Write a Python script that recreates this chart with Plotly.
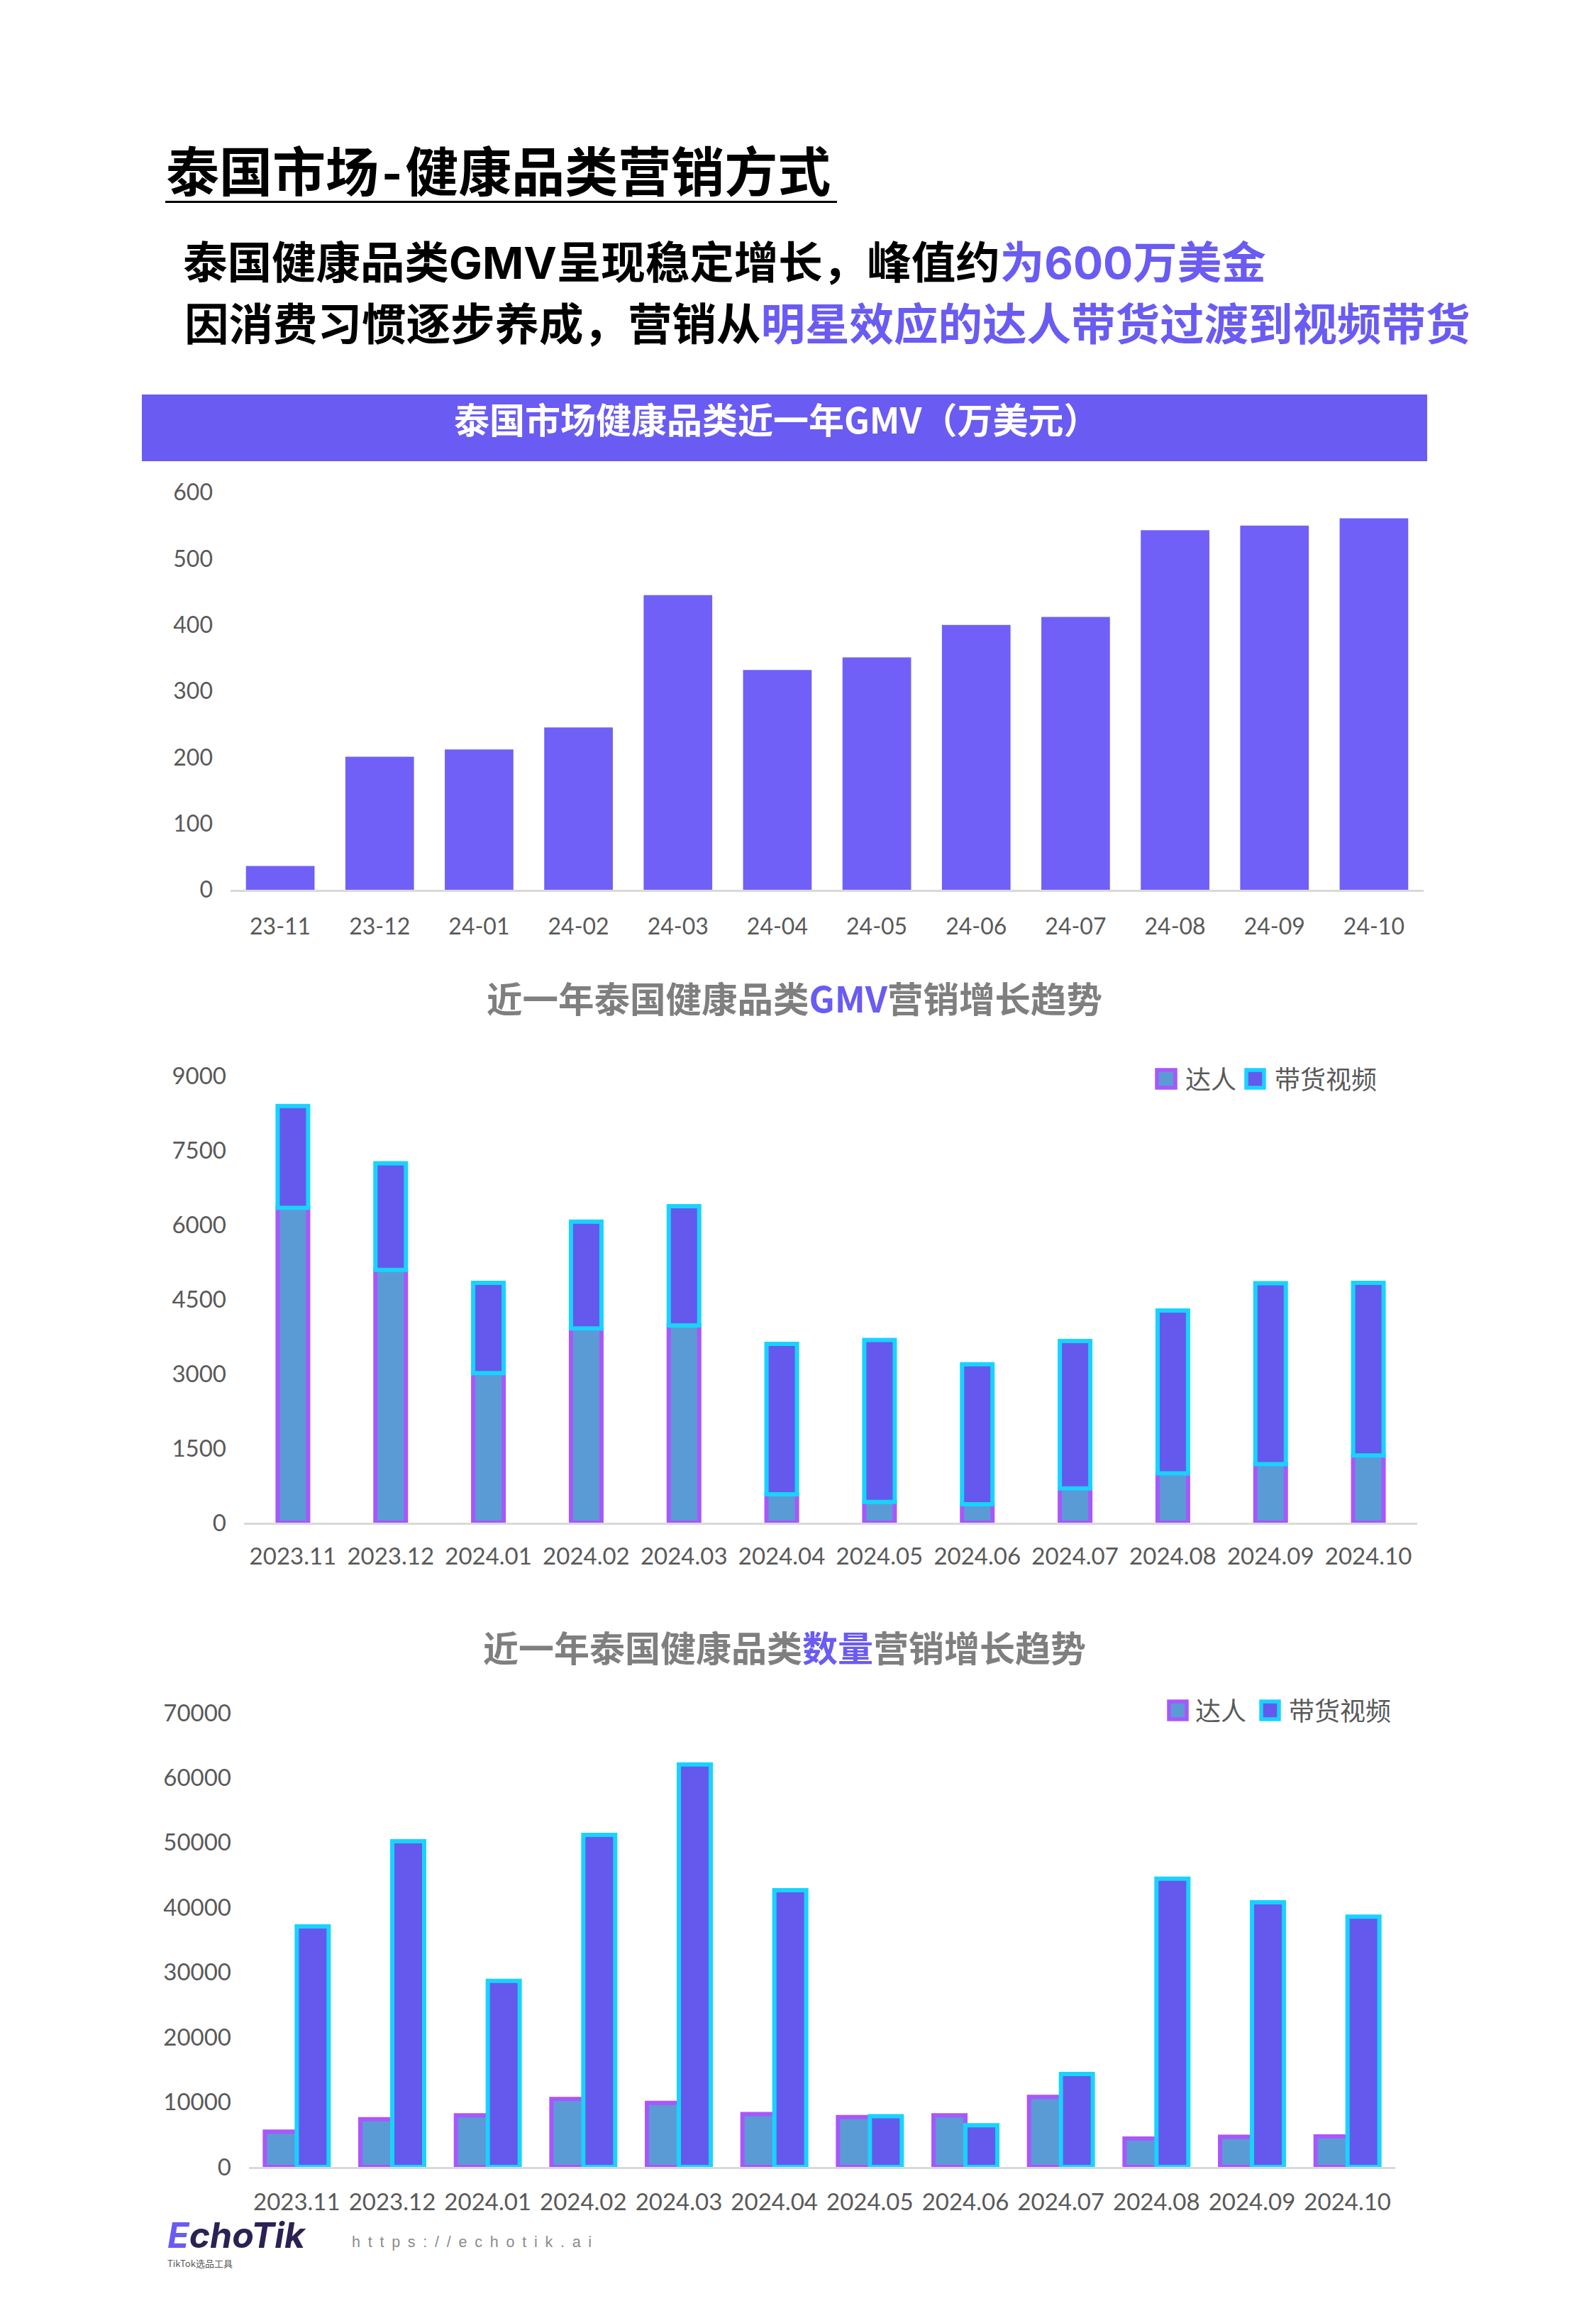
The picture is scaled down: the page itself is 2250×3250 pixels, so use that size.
import plotly.graph_objects as go

W = 2250
H = 3250

months_short = ['23-11', '23-12', '24-01', '24-02', '24-03', '24-04', '24-05', '24-06', '24-07', '24-08', '24-09', '24-10']
months_long = ['2023.11', '2023.12', '2024.01', '2024.02', '2024.03', '2024.04', '2024.05', '2024.06', '2024.07', '2024.08', '2024.09', '2024.10']

gmv_total = [36, 201, 212, 245, 445, 332, 351, 400, 412, 543, 550, 561]

gmv_creator = [6340, 5090, 3010, 3910, 3970, 573, 418, 370, 688, 993, 1180, 1354]
gmv_video = [2051, 2145, 1820, 2150, 2400, 3027, 3262, 2820, 2970, 3277, 3641, 3476]

count_creator = [5430, 7360, 7970, 10480, 9870, 8140, 7680, 7970, 10800, 4370, 4640, 4700]
count_video = [37090, 50200, 28680, 51200, 62050, 42650, 7820, 6430, 14320, 44440, 40800, 38580]

ticks_gmv = [0, 100, 200, 300, 400, 500, 600]
ticks_stack = [0, 1500, 3000, 4500, 6000, 7500, 9000]
ticks_count = [0, 10000, 20000, 30000, 40000, 50000, 60000, 70000]

PURPLE = '#6A5BF3'
BAR1 = '#7060F7'
CREATOR_FILL = '#5B9BD5'
CREATOR_LINE = '#A857FA'
VIDEO_FILL = '#6459EC'
VIDEO_LINE = '#19D3FF'
GREY = '#595959'
TITLE_GREY = '#7F7F7F'
CJK = 'Noto Sans CJK SC'
NUM = 'Lato'
COMMA = '\uff0c'


def px(x):
    return x / W


def py(y):
    return 1 - y / H


def text(s, x, y, size, color='black', anchor='left', family=CJK):
    return dict(text=s, x=px(x), y=py(y), xref='paper', yref='paper', showarrow=False, xanchor=anchor, yanchor='middle',
                font=dict(family=family, size=size, color=color))


def rect(x0, y0, x1, y1, fill, line=None, lw=0):
    return dict(type='rect', xref='paper', yref='paper', x0=px(x0), x1=px(x1), y0=py(y1), y1=py(y0),
                fillcolor=fill, line=dict(color=line or fill, width=lw))


def xaxis(left, right, labels, anchor, size, standoff):
    return dict(domain=[px(left), px(right)], anchor=anchor, type='category', categoryorder='array', categoryarray=labels,
                range=[-0.5, 11.5], showgrid=False, zeroline=False, showline=True, linecolor='#D9D9D9', linewidth=3,
                automargin=False, ticks='', ticklabelstandoff=standoff, tickfont=dict(family=NUM, size=size, color=GREY))


def yaxis(top, bottom, maxval, tickvals, anchor, size, standoff):
    return dict(domain=[py(bottom), py(top)], anchor=anchor, range=[0, maxval], tickvals=tickvals, tickformat='d', showgrid=False,
                zeroline=False, showline=False, automargin=False, ticks='', ticklabelstandoff=standoff,
                tickfont=dict(family=NUM, size=size, color=GREY))


fig = go.Figure()

fig.add_trace(go.Bar(x=months_short, y=gmv_total, width=0.69, marker=dict(color=BAR1, line=dict(width=0)), xaxis='x', yaxis='y', showlegend=False))

fig.add_trace(go.Bar(x=months_long, y=gmv_creator, name='达人', width=0.312,
                     marker=dict(color=CREATOR_FILL, line=dict(color=CREATOR_LINE, width=6)), xaxis='x2', yaxis='y2', showlegend=False))
fig.add_trace(go.Bar(x=months_long, y=gmv_video, base=gmv_creator, name='带货视频', width=0.312,
                     marker=dict(color=VIDEO_FILL, line=dict(color=VIDEO_LINE, width=6)), xaxis='x2', yaxis='y2', showlegend=False))

fig.add_trace(go.Bar(x=months_long, y=count_creator, name='达人', width=0.334, offset=-0.334,
                     marker=dict(color=CREATOR_FILL, line=dict(color=CREATOR_LINE, width=6)), xaxis='x3', yaxis='y3', showlegend=False))
fig.add_trace(go.Bar(x=months_long, y=count_video, name='带货视频', width=0.334, offset=0,
                     marker=dict(color=VIDEO_FILL, line=dict(color=VIDEO_LINE, width=6)), xaxis='x3', yaxis='y3', showlegend=False))

hl = f'<span style="color:{PURPLE}">%s</span>'
latin = '<span style="font-family:Inter">%s</span>'
annotations = [
    text('<b>泰国市场\u200a-\u200a健康品类营销方式</b>', 232, 238, 75),
    text('<b>泰国健康品类' + latin % 'GMV' + '呈现稳定增长' + COMMA + '峰值约</b>' + hl % ('<b>为' + latin % '600' + '万美金</b>'), 256, 365, 62.5),
    text('<b>因消费习惯逐步养成' + COMMA + '营销从</b>' + hl % '<b>明星效应的达人带货过渡到视频带货</b>', 258, 452, 62.5),
    text('<b>泰国市场健康品类近一年GMV\uff08万美元\uff09</b>', 1094, 589, 50, color='white', anchor='center'),
    text('<b>近一年泰国健康品类</b>' + hl % '<b>GMV</b>' + '<b>营销增长趋势</b>', 1120, 1405, 50.5, color=TITLE_GREY, anchor='center'),
    text('<b>近一年泰国健康品类</b>' + hl % '<b>数量</b>' + '<b>营销增长趋势</b>', 1106, 2320, 50, color=TITLE_GREY, anchor='center'),
    text('达人', 1669, 1519, 36, color=GREY),
    text('带货视频', 1795, 1519, 36, color=GREY),
    text('达人', 1683, 2409, 36, color=GREY),
    text('带货视频', 1815, 2409, 36, color=GREY),
    text(f'<b><i><span style="color:{PURPLE}">E</span>choTik</i></b>', 234, 3150, 50, color='#2B2154', family='Inter'),
    text('TikTok选品工具', 234, 3189, 13, color=GREY),
    text('\u2002'.join('https://echotik.ai'), 494, 3160, 21.5, color='#8C8C8C', family='Liberation Sans'),
]

shapes = [
    rect(233, 283, 1180, 286, 'black'),
    rect(200, 556, 2012, 650, PURPLE),
    rect(1631, 1508, 1657, 1533, CREATOR_FILL, CREATOR_LINE, 5.5),
    rect(1757, 1508, 1782, 1533, VIDEO_FILL, VIDEO_LINE, 5.5),
    rect(1648, 2398, 1673, 2423, CREATOR_FILL, CREATOR_LINE, 5.5),
    rect(1778, 2398, 1803, 2423, VIDEO_FILL, VIDEO_LINE, 5.5),
]

fig.update_layout(
    width=W,
    height=H,
    margin=dict(l=0, r=0, t=0, b=0),
    paper_bgcolor='white',
    plot_bgcolor='white',
    barmode='overlay',
    showlegend=False,
    xaxis=xaxis(325, 2007, months_short, 'y', 32, 22),
    yaxis=yaxis(694, 1254, 600, ticks_gmv, 'x', 32, 24),
    xaxis2=xaxis(344, 1998, months_long, 'y2', 33, 16),
    yaxis2=yaxis(1516, 2146, 9000, ticks_stack, 'x2', 33, 24),
    xaxis3=xaxis(351, 1967, months_long, 'y3', 33, 18),
    yaxis3=yaxis(2414, 3054, 70000, ticks_count, 'x3', 33, 24),
    annotations=annotations,
    shapes=shapes,
)

fig.write_html("out.html", config=dict(displayModeBar=False), post_script="document.body.style.margin='0';")
